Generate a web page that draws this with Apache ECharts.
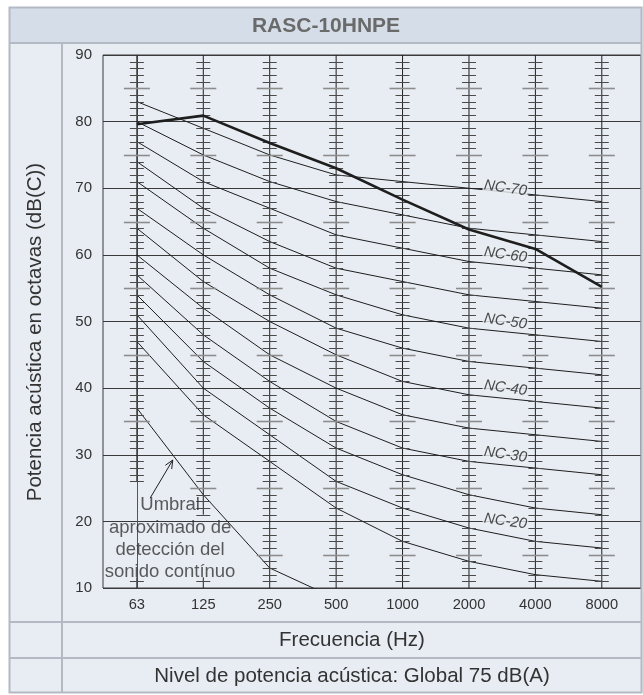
<!DOCTYPE html>
<html>
<head>
<meta charset="utf-8">
<script src="https://cdn.jsdelivr.net/npm/echarts@6/dist/echarts.min.js"></script>
<style>
  html, body { margin: 0; padding: 0; background: #ffffff; }
  #chart { width: 643px; height: 695px; }
</style>
</head>
<body>
<div id="chart"></div>
<script>
// Octave-band centre frequencies (Hz) shown along the bottom axis
const freqLabels = ['63', '125', '250', '500', '1000', '2000', '4000', '8000'];

// Unit sound power per octave band, dB(C)
const unitLevel = [79.6, 80.9, 76.8, 73.0, 68.3, 63.8, 60.9, 55.2];

// Noise Criterion reference curves, one value per octave band
const nc15 = [47, 36, 29, 22, 17, 14, 12, 11];
const nc20 = [51, 40, 33, 26, 22, 19, 17, 16];
const nc25 = [54, 44, 37, 31, 27, 24, 22, 21];
const nc30 = [57, 48, 41, 35, 31, 29, 28, 27];
const nc35 = [60, 52, 45, 40, 36, 34, 33, 32];
const nc40 = [64, 56, 50, 45, 41, 39, 38, 37];
const nc45 = [67, 60, 54, 49, 46, 44, 43, 42];
const nc50 = [71, 64, 58, 54, 51, 49, 48, 47];
const nc55 = [74, 67, 62, 58, 56, 54, 53, 52];
const nc60 = [77, 71, 67, 63, 61, 59, 58, 57];
const nc65 = [80, 75, 71, 68, 66, 64, 63, 62];
const nc70 = [83, 79, 75, 72, 71, 70, 69, 68];

// Curves that carry a printed name, with their NC level
const ncLabelNames = ['NC-70', 'NC-60', 'NC-50', 'NC-40', 'NC-30', 'NC-20'];
const ncLabelLevels = [70, 60, 50, 40, 30, 20];

// Approximate threshold of hearing for continuous sound (first four bands)
const thresholdLevel = [37, 24, 13, 8.4];

// Graduated scale per octave line: upper and lower end, dB
const scaleTop = [90, 90, 90, 90, 90, 90, 90, 90];
const scaleBottom = [26, 21, 10, 10, 10, 10, 10, 10];
// short graduated stubs near the floor for the two lowest bands
const stubBands = [0, 1];
const stubTop = [11.6, 11.6];

// Y tick labels
const yTicks = [10, 20, 30, 40, 50, 60, 70, 80, 90];

const FONT = '"Liberation Sans", Arial, sans-serif';
const PANEL = '#e8edf3';
const BAND = '#d5dde8';
const FRAME = '#b3bac4';
const INK = '#1e1e1e';

const ncCurves = [nc15, nc20, nc25, nc30, nc35, nc40, nc45, nc50, nc55, nc60, nc65, nc70];

const chart = echarts.init(document.getElementById('chart'), null, { renderer: 'canvas' });

// Octave-line scale: vertical stroke with 1 dB ticks and longer 5 dB ticks
function renderScale(params, api) {
  const x = api.value(0);
  const top = api.value(1);
  const bottom = api.value(2);
  const p1 = api.coord([x, top]);
  const p2 = api.coord([x, bottom]);
  const children = [{
    type: 'line',
    shape: { x1: p1[0], y1: p1[1], x2: p2[0], y2: p2[1] },
    style: { stroke: INK, lineWidth: 1 }
  }];
  for (let t = Math.ceil(bottom); t <= Math.min(89, top); t++) {
    if (t % 10 === 0) continue;
    const p = api.coord([x, t]);
    const major = t % 5 === 0;
    const hw = major ? 13 : 7;
    const yy = Math.round(p[1]) + 0.5;
    children.push({
      type: 'line',
      shape: { x1: p[0] - hw, y1: yy, x2: p[0] + hw, y2: yy },
      style: { stroke: major ? '#8c8c8c' : '#4a4a4a', lineWidth: major ? 1.6 : 1 }
    });
  }
  return { type: 'group', children: children };
}

// Pointer from the threshold note to the threshold curve
function renderArrow(params, api) {
  const a = api.coord([api.value(0), api.value(1)]);
  const b = api.coord([api.value(2), api.value(3)]);
  const ang = Math.atan2(b[1] - a[1], b[0] - a[0]);
  const len = 9, spread = 0.42;
  const h1 = [b[0] - len * Math.cos(ang - spread), b[1] - len * Math.sin(ang - spread)];
  const h2 = [b[0] - len * Math.cos(ang + spread), b[1] - len * Math.sin(ang + spread)];
  return {
    type: 'group',
    children: [
      { type: 'line', shape: { x1: a[0], y1: a[1], x2: b[0], y2: b[1] }, style: { stroke: INK, lineWidth: 1 } },
      { type: 'polyline', shape: { points: [h1, b, h2] }, style: { stroke: INK, lineWidth: 1, fill: null } }
    ]
  };
}

const scaleData = scaleTop.map((t, i) => [i, t, scaleBottom[i]])
  .concat(stubBands.map((b, i) => [b, stubTop[i], 10]));

const series = [];

ncCurves.forEach((vals, k) => {
  series.push({
    type: 'line',
    name: 'nc' + k,
    data: vals.map((v, i) => [i, v]),
    showSymbol: false,
    silent: true,
    z: 2,
    lineStyle: { color: INK, width: 1 }
  });
});

series.push({
  type: 'line',
  name: 'threshold',
  data: thresholdLevel.map((v, i) => [i, v]),
  showSymbol: false,
  silent: true,
  clip: true,
  z: 2,
  lineStyle: { color: INK, width: 1 }
});

series.push({
  type: 'scatter',
  name: 'ncNames',
  data: ncLabelNames.map((n, i) => ({ name: n, value: [5.55, ncLabelLevels[i]] })),
  symbolSize: 0,
  silent: true,
  z: 4,
  label: {
    show: true,
    position: 'inside',
    formatter: '{b}',
    fontFamily: FONT,
    fontStyle: 'italic',
    fontSize: 15,
    color: '#222',
    rotate: -8,
    backgroundColor: PANEL,
    padding: [0, 1]
  }
});

series.push({
  type: 'custom',
  name: 'scales',
  data: scaleData,
  renderItem: renderScale,
  silent: true,
  clip: true,
  z: 5
});

series.push({
  type: 'line',
  name: 'unit',
  data: unitLevel.map((v, i) => [i, v]),
  showSymbol: false,
  silent: true,
  z: 6,
  lineStyle: { color: INK, width: 2.6 }
});

series.push({
  type: 'custom',
  name: 'pointer',
  data: [[0.2, 23.5, 0.54, 29.2]],
  renderItem: renderArrow,
  silent: true,
  z: 6
});

series.push({
  type: 'scatter',
  name: 'thresholdNote',
  data: [{ name: 'Umbral\naproximado de\ndetección del\nsonido contínuo', value: [0.5, 17.4] }],
  symbolSize: 0,
  silent: true,
  z: 7,
  label: {
    show: true,
    position: 'inside',
    formatter: '{b}',
    fontFamily: FONT,
    fontSize: 18.5,
    lineHeight: 22.3,
    align: 'center',
    color: '#333'
  }
});

const option = {
  animation: false,
  backgroundColor: PANEL,
  textStyle: { fontFamily: FONT },
  grid: {
    left: 103, top: 55, right: 2, bottom: 107,
    show: true, borderColor: '#3a3a3a', borderWidth: 1, backgroundColor: 'transparent'
  },
  xAxis: {
    type: 'value',
    min: -0.51,
    max: 7.59,
    axisLine: { show: false },
    axisTick: { show: false },
    splitLine: { show: false },
    axisLabel: {
      customValues: freqLabels.map((_, i) => i),
      formatter: v => freqLabels[Math.round(v)],
      fontFamily: FONT,
      fontSize: 14.7,
      color: '#333',
      margin: 9
    }
  },
  yAxis: {
    type: 'value',
    min: yTicks[0],
    max: yTicks[yTicks.length - 1],
    interval: 10,
    axisLine: { show: true, lineStyle: { color: '#555', width: 1 } },
    axisTick: { show: false },
    axisLabel: { fontFamily: FONT, fontSize: 15, color: '#333', margin: 11 },
    splitLine: { show: true, lineStyle: { color: '#3a3a3a', width: 1 } }
  },
  graphic: {
    elements: [
      // white margin outside the table frame
      { type: 'rect', shape: { x: 0, y: 0, width: 643, height: 7 }, style: { fill: '#fff' }, silent: true },
      { type: 'rect', shape: { x: 0, y: 0, width: 9, height: 695 }, style: { fill: '#fff' }, silent: true },
      { type: 'rect', shape: { x: 0, y: 693, width: 643, height: 2 }, style: { fill: '#fff' }, silent: true },
      // heading band
      { type: 'rect', shape: { x: 9, y: 7, width: 633, height: 36 }, style: { fill: BAND }, silent: true },
      {
        type: 'text', x: 326, y: 26, silent: true,
        style: { text: 'RASC-10HNPE', font: 'bold 21px ' + FONT, fill: '#6a6a6a', align: 'center', verticalAlign: 'middle' }
      },
      // table rules
      { type: 'rect', z: 100, shape: { x: 9.5, y: 7.5, width: 632, height: 685 }, style: { fill: null, stroke: FRAME, lineWidth: 2 }, silent: true },
      { type: 'line', z: 100, shape: { x1: 9, y1: 43, x2: 642, y2: 43 }, style: { stroke: FRAME, lineWidth: 2 }, silent: true },
      { type: 'line', z: 100, shape: { x1: 9, y1: 622, x2: 642, y2: 622 }, style: { stroke: FRAME, lineWidth: 2 }, silent: true },
      { type: 'line', z: 100, shape: { x1: 9, y1: 658, x2: 642, y2: 658 }, style: { stroke: FRAME, lineWidth: 2 }, silent: true },
      { type: 'line', z: 100, shape: { x1: 62, y1: 43, x2: 62, y2: 693 }, style: { stroke: FRAME, lineWidth: 2 }, silent: true },
      // axis titles and footer
      {
        type: 'text', x: 35, y: 332, rotation: Math.PI / 2, silent: true,
        style: { text: 'Potencia acústica en octavas (dB(C))', font: '20.5px ' + FONT, fill: '#333', align: 'center', verticalAlign: 'middle' }
      },
      {
        type: 'text', x: 352, y: 640, silent: true,
        style: { text: 'Frecuencia (Hz)', font: '20.5px ' + FONT, fill: '#333', align: 'center', verticalAlign: 'middle' }
      },
      {
        type: 'text', x: 352, y: 676, silent: true,
        style: { text: 'Nivel de potencia acústica: Global 75 dB(A)', font: '20.5px ' + FONT, fill: '#333', align: 'center', verticalAlign: 'middle' }
      }
    ]
  },
  series: series
};

chart.setOption(option);
</script>
</body>
</html>
